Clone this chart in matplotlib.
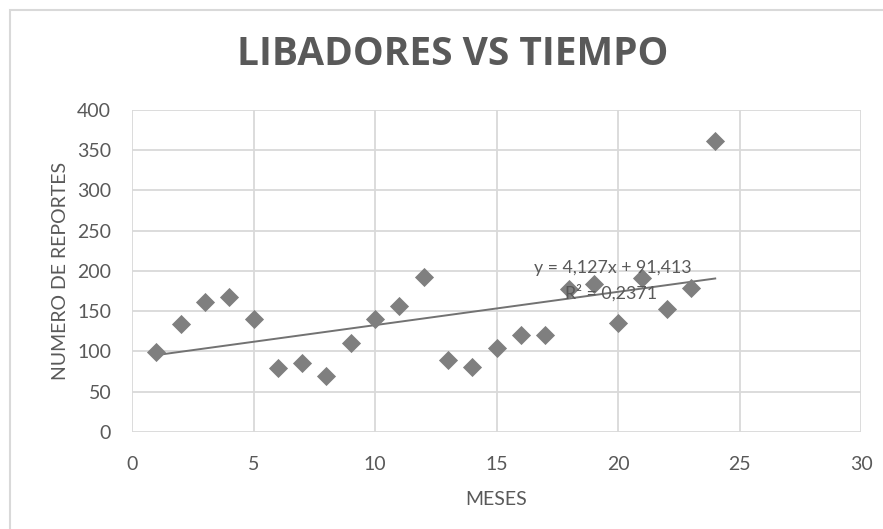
import numpy as np
import matplotlib
matplotlib.use('Agg')
from matplotlib import pyplot as plt
from matplotlib.patches import Rectangle

# data
meses = [1, 2, 3, 4, 5, 6, 7, 8, 9, 10, 11, 12,
         13, 14, 15, 16, 17, 18, 19, 20, 21, 22, 23, 24]
reportes = [99, 134, 162, 168, 140, 80, 86, 69, 111, 140, 156, 192,
            89, 81, 104, 120, 121, 178, 184, 136, 191, 153, 179, 361]
x_ticks = [0, 5, 10, 15, 20, 25, 30]
y_ticks = [0, 50, 100, 150, 200, 250, 300, 350, 400]
ecuacion = 'y = 4,127x + 91,413'
r2_txt = 'R² = 0,2371'

plt.rcParams['font.family'] = ['Lato', 'DejaVu Sans']
gris_txt = '#595959'
gris_grid = '#d9d9d9'

fig = plt.figure(figsize=(8.83, 5.29), dpi=100)
ax = fig.add_axes([0.1495, 0.1834, 0.8256, 0.6087])

# marco del grafico
fig.patches.append(Rectangle((10 / 883, -0.1), 1.2, 1 - 10 / 529 + 0.1,
                             transform=fig.transFigure, fill=False,
                             edgecolor='#d9d9d9', linewidth=1.5))

ax.scatter(meses, reportes, marker='D', s=95, color='#7f7f7f', zorder=3, linewidths=0)

# linea de tendencia
m, b = np.polyfit(meses, reportes, 1)
xt = np.array([meses[0], meses[-1]])
ax.plot(xt, m * xt + b, color='#727272', linewidth=1.4, zorder=2)

ax.text(19.8, 204, ecuacion, ha='center', va='center', fontsize=12.8, color=gris_txt, zorder=4)
ax.text(19.7, 173, r2_txt, ha='center', va='center', fontsize=12.8, color=gris_txt, zorder=4)

ax.set_xlim(0, 30)
ax.set_ylim(0, 400)
ax.set_xticks(x_ticks)
ax.set_yticks(y_ticks)
ax.grid(True, color=gris_grid, linewidth=1.3)
ax.set_axisbelow(True)
for s in ax.spines.values():
    s.set_visible(False)
ax.tick_params(length=0, labelsize=14, labelcolor=gris_txt)
ax.tick_params(axis='x', pad=17)
ax.tick_params(axis='y', pad=15)

ax.set_xlabel('MESES', fontsize=14, color=gris_txt, labelpad=13)
ax.set_ylabel('NUMERO DE REPORTES', fontsize=14, color=gris_txt, labelpad=6)
fig.text(0.513, 0.897, 'LIBADORES VS TIEMPO', ha='center', va='center',
         fontsize=28, fontweight='bold', color=gris_txt, family='Open Sans')

plt.savefig('out.png', dpi=100)
